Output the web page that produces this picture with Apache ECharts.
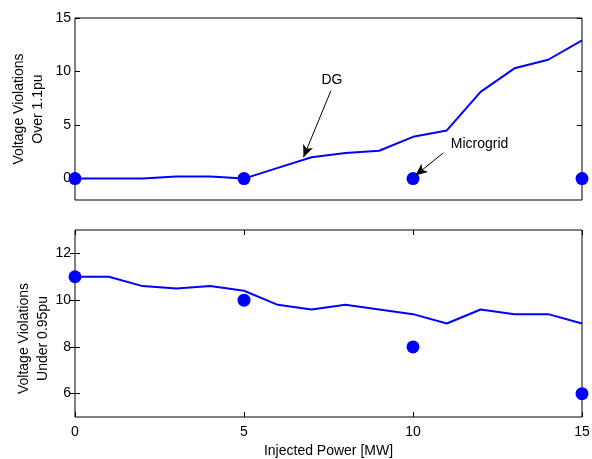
<!DOCTYPE html>
<html><head><meta charset="utf-8">
<script src="https://cdn.jsdelivr.net/npm/echarts@6/dist/echarts.min.js"></script>
<style>html,body{margin:0;padding:0;background:#fff}#c{width:592px;height:459px}</style>
</head><body><div id="c"></div>
<script>
const injectedPower = [0,1,2,3,4,5,6,7,8,9,10,11,12,13,14,15];
const dgOver = [0,0,0,0.2,0.2,0,1.0,2.0,2.4,2.6,3.9,4.5,8.1,10.3,11.1,12.9];
const dgUnder = [11,11,10.6,10.5,10.6,10.4,9.8,9.6,9.8,9.6,9.4,9.0,9.6,9.4,9.4,9.0];
const microgridPower = [0,5,10,15];
const microgridOver = [0,0,0,0];
const microgridUnder = [11,10,8,6];
const xTicks = [0,5,10,15];
const overTicks = [0,5,10,15];
const underTicks = [6,8,10,12];

const FONT = 'Liberation Sans, Arial, sans-serif';
const BLUE = '#0000ff';
const pair = (xs, ys) => xs.map((x,i)=>[x, ys[i]]);

const chart = echarts.init(document.getElementById('c'), null, {renderer:'canvas'});
const baseLabel = {color:'#000', fontFamily:FONT, fontSize:14};
function yAx(grid, min, max, ticks, name, right, gap, pad){
  return {
    type:'value', gridIndex:grid, min:min, max:max, position: right?'right':'left',
    splitLine:{show:false},
    axisLine:{show:false},
    axisTick:{show:true, inside:true, length:5, lineStyle:{color:'#000'}, customValues:ticks},
    axisLabel:Object.assign({show:!right, margin:4, customValues:ticks}, baseLabel),
    name: right? '' : name, nameLocation:'middle', nameGap:gap, nameRotate:90, nameMoveOverlap:false,
    nameTextStyle:{color:'#000', fontFamily:FONT, fontSize:14, lineHeight:19, padding:pad||0}
  };
}
function xAx(grid, showTicks, showLabels, top, name){
  return {
    type:'value', gridIndex:grid, min:0, max:15, interval:5, position: top?'top':'bottom',
    splitLine:{show:false}, axisLine:{show:false},
    axisTick:{show:showTicks, inside:true, length:5, lineStyle:{color:'#000'}},
    axisLabel:Object.assign({show:showLabels, margin:8}, baseLabel),
    name: name||'', nameLocation:'middle', nameGap:27,
    nameTextStyle:{color:'#000', fontFamily:FONT, fontSize:14}
  };
}

chart.setOption({
  animation:false,
  backgroundColor:'#fff',
  grid:[
    {left:75, top:18, width:507, height:182, show:true, borderColor:'#000', borderWidth:1, backgroundColor:'transparent', containLabel:false, outerBoundsMode:'none'},
    {left:75, top:230, width:507, height:187, show:true, borderColor:'#000', borderWidth:1, backgroundColor:'transparent', containLabel:false, outerBoundsMode:'none'}
  ],
  xAxis:[
    xAx(0,false,false,false),
    xAx(1,true,true,false,'Injected Power [MW]'),
    xAx(1,true,false,true)
  ],
  yAxis:[
    yAx(0,-2,15,overTicks,'Voltage Violations\nOver 1.1pu',false,27),
    yAx(0,-2,15,overTicks,'',true,0),
    yAx(1,5,13,underTicks,'Voltage Violations\nUnder 0.95pu',false,22,[0,30,0,0]),
    yAx(1,5,13,underTicks,'',true,0)
  ],
  series:[
    {type:'line', xAxisIndex:0, yAxisIndex:0, data:pair(injectedPower,dgOver), showSymbol:false,
     lineStyle:{color:BLUE, width:2}, z:2,
     markLine:{silent:true, symbol:['none','arrow'], symbolSize:[8,12], label:{show:false},
       lineStyle:{color:'#000', width:1, type:'solid'},
       data:[
         [{coord:[7.57,8.2]},{coord:[6.76,2.0]}],
         [{coord:[10.9,2.4]},{coord:[10.07,0.3]}]
       ]},
     markPoint:{silent:true, symbol:'circle', symbolSize:0,
       label:{show:true, color:'#000', fontFamily:FONT, fontSize:14, formatter:p=>p.name},
       data:[
         {name:'DG', coord:[7.6,9.2]},
         {name:'Microgrid', coord:[11.97,3.2]}
       ]}
    },
    {type:'scatter', xAxisIndex:0, yAxisIndex:0, data:pair(microgridPower,microgridOver),
     symbol:'circle', symbolSize:13, itemStyle:{color:BLUE, opacity:1}, z:3},
    {type:'line', xAxisIndex:1, yAxisIndex:2, data:pair(injectedPower,dgUnder), showSymbol:false,
     lineStyle:{color:BLUE, width:2}, z:2},
    {type:'scatter', xAxisIndex:1, yAxisIndex:2, data:pair(microgridPower,microgridUnder),
     symbol:'circle', symbolSize:13, itemStyle:{color:BLUE, opacity:1}, z:3}
  ]
});
</script></body></html>
